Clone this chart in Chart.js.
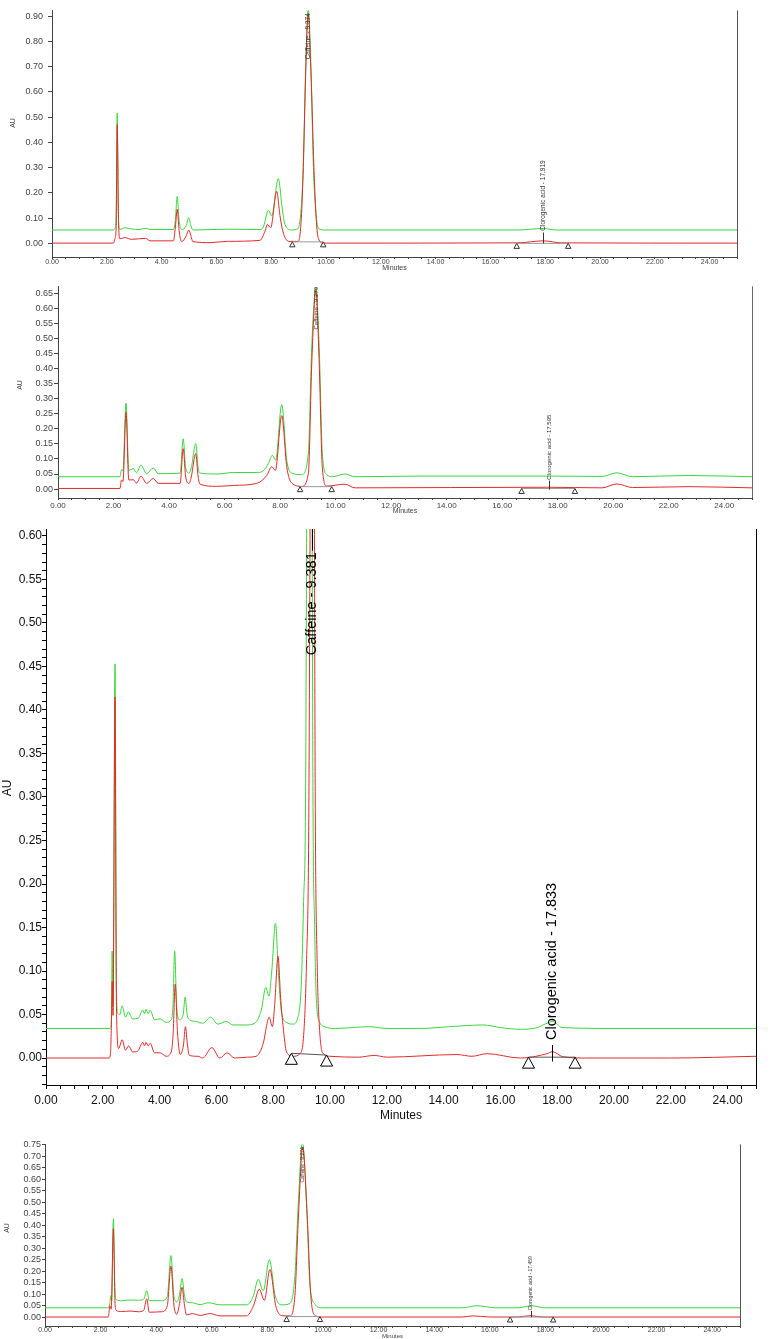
<!DOCTYPE html>
<html>
<head>
<meta charset="utf-8">
<script src="https://cdn.jsdelivr.net/npm/chart.js@4.4.1/dist/chart.umd.min.js"></script>
<style>
html, body { margin: 0; padding: 0; background: #fff; }
body { width: 770px; height: 1339px; position: relative; overflow: hidden; }
canvas { position: absolute; left: 0; }
</style>
</head>
<body>
<canvas id="run1" width="770" height="272" style="top:0px"></canvas>
<canvas id="run2" width="770" height="240" style="top:280px"></canvas>
<canvas id="run3" width="770" height="605" style="top:520px"></canvas>
<canvas id="run4" width="770" height="201" style="top:1138px"></canvas>
<script>
// chromatogram 1 (top)
const p1GreenTime = [0, 2.24, 2.30, 2.34, 2.38, 2.42, 2.47, 2.66, 2.90, 3.20, 3.42, 3.58, 4.43, 4.50, 4.57, 4.64, 4.73, 4.90, 4.99, 5.07, 5.14, 6.40, 7.59, 7.71, 7.90, 8.02, 8.26, 8.40, 8.50, 8.75, 8.99, 9.10, 9.17, 9.26, 9.35, 9.45, 9.54, 9.62, 9.72, 9.96, 17.0, 17.93, 18.4, 25];
const p1GreenAU = [0.053, 0.053, 0.060, 0.10, 0.516, 0.12, 0.055, 0.062, 0.057, 0.055, 0.060, 0.055, 0.055, 0.09, 0.186, 0.09, 0.055, 0.07, 0.102, 0.07, 0.053, 0.056, 0.055, 0.064, 0.131, 0.109, 0.257, 0.14, 0.076, 0.053, 0.060, 0.15, 0.30, 0.70, 0.93, 0.70, 0.30, 0.14, 0.060, 0.053, 0.053, 0.059, 0.053, 0.053];
const p1RedTime = [0, 2.24, 2.30, 2.34, 2.38, 2.43, 2.48, 2.66, 2.90, 3.42, 3.58, 4.43, 4.50, 4.57, 4.64, 4.73, 4.90, 4.99, 5.07, 5.14, 5.80, 6.40, 7.59, 7.78, 7.86, 7.98, 8.20, 8.32, 8.42, 8.64, 8.99, 9.10, 9.17, 9.26, 9.35, 9.45, 9.56, 9.64, 9.72, 9.90, 17.0, 17.93, 18.6, 25];
const p1RedAU = [0.001, 0.001, 0.020, 0.06, 0.47, 0.08, 0.018, 0.023, 0.016, 0.020, 0.010, 0.010, 0.06, 0.135, 0.05, 0.007, 0.03, 0.053, 0.03, 0.007, 0.003, 0.008, 0.012, 0.05, 0.075, 0.062, 0.206, 0.11, 0.05, 0.008, 0.008, 0.10, 0.30, 0.68, 0.91, 0.68, 0.30, 0.10, 0.020, 0.001, 0.002, 0.010, 0.002, 0.001];
const p1PeakNames = ['Caffeine - 9.374', 'Clorogenic acid - 17.919'];
const p1PeakTimes = [9.34, 17.93];
const p1LabelAU = [0.729, 0.05];
const p1TickLow = [null, 0.0];
const p1TickHigh = [null, 0.043];
const p1BaseFrom = [8.77, 16.96];
const p1BaseTo = [9.90, 18.84];
const p1BaseFromAU = [0.006, 0.0];
const p1BaseToAU = [0.006, 0.0];

// chromatogram 2
const p2GreenTime = [0, 2.23, 2.29, 2.34, 2.45, 2.55, 2.71, 2.83, 2.99, 3.19, 3.43, 3.61, 4.40, 4.51, 4.60, 4.72, 4.80, 4.96, 5.05, 5.12, 5.72, 6.32, 7.16, 7.40, 7.58, 7.72, 7.84, 8.06, 8.24, 8.42, 8.78, 9.02, 9.14, 9.29, 9.41, 9.52, 9.68, 9.89, 10.34, 10.7, 13.0, 17.6, 19.6, 20.13, 20.7, 22.7, 25];
const p2GreenAU = [0.041, 0.041, 0.065, 0.06, 0.285, 0.062, 0.068, 0.054, 0.079, 0.051, 0.070, 0.051, 0.053, 0.167, 0.07, 0.053, 0.07, 0.151, 0.07, 0.053, 0.050, 0.055, 0.055, 0.061, 0.085, 0.112, 0.096, 0.280, 0.096, 0.053, 0.048, 0.12, 0.47, 0.67, 0.47, 0.12, 0.048, 0.041, 0.050, 0.041, 0.043, 0.043, 0.042, 0.054, 0.041, 0.045, 0.041];
const p2RedTime = [0, 2.23, 2.29, 2.34, 2.45, 2.55, 2.71, 2.83, 2.99, 3.19, 3.43, 3.61, 4.40, 4.51, 4.60, 4.72, 4.80, 4.96, 5.05, 5.12, 5.72, 6.32, 7.16, 7.52, 7.70, 7.83, 8.06, 8.24, 8.42, 8.78, 9.02, 9.14, 9.29, 9.41, 9.52, 9.68, 10.34, 10.7, 17.6, 19.6, 20.13, 20.7, 22.7, 25];
const p2RedAU = [0.002, 0.002, 0.030, 0.025, 0.255, 0.030, 0.031, 0.020, 0.043, 0.019, 0.035, 0.019, 0.019, 0.134, 0.04, 0.019, 0.04, 0.118, 0.04, 0.016, 0.009, 0.012, 0.019, 0.045, 0.074, 0.062, 0.244, 0.074, 0.020, 0.009, 0.053, 0.415, 0.66, 0.415, 0.075, 0.010, 0.016, 0.004, 0.006, 0.004, 0.017, 0.005, 0.008, 0.004];
const p2PeakNames = ['Caffeine - 9.279', 'Clorogenic acid - 17.595'];
const p2PeakTimes = [9.29, 17.69];
const p2LabelAU = [0.53, 0.031];
const p2TickLow = [null, -0.002];
const p2TickHigh = [null, 0.028];
const p2BaseFrom = [8.72, 16.70];
const p2BaseTo = [9.86, 18.62];
const p2BaseFromAU = [0.008, 0.002];
const p2BaseToAU = [0.008, 0.002];

// chromatogram 3 (large)
const p3GreenTime = [0, 2.25, 2.30, 2.33, 2.36, 2.43, 2.48, 2.53, 2.60, 2.68, 2.80, 2.90, 3.05, 3.25, 3.41, 3.47, 3.52, 3.60, 3.67, 3.82, 4.02, 4.23, 4.41, 4.47, 4.53, 4.60, 4.70, 4.83, 4.90, 4.97, 5.05, 5.29, 5.52, 5.80, 6.05, 6.35, 6.58, 7.05, 7.29, 7.45, 7.58, 7.74, 7.85, 7.95, 8.08, 8.18, 8.29, 8.47, 8.70, 8.85, 8.99, 9.07, 9.14, 9.18, 9.27, 9.37, 9.40, 9.46, 9.52, 9.64, 9.81, 10.2, 11.4, 12.0, 13.2, 14.2, 15.4, 16.0, 16.7, 17.3, 17.64, 17.84, 18.17, 20.0, 25];
const p3GreenAU = [0.034, 0.034, 0.040, 0.123, 0.060, 0.453, 0.080, 0.051, 0.050, 0.060, 0.047, 0.053, 0.045, 0.046, 0.055, 0.051, 0.056, 0.051, 0.055, 0.044, 0.045, 0.041, 0.044, 0.060, 0.123, 0.060, 0.044, 0.050, 0.070, 0.050, 0.044, 0.042, 0.040, 0.047, 0.039, 0.042, 0.038, 0.038, 0.039, 0.044, 0.055, 0.081, 0.071, 0.100, 0.155, 0.100, 0.053, 0.041, 0.039, 0.045, 0.085, 0.18, 0.30, 0.62, 1.20, 0.62, 0.30, 0.15, 0.067, 0.041, 0.036, 0.034, 0.036, 0.034, 0.034, 0.036, 0.038, 0.035, 0.033, 0.035, 0.040, 0.042, 0.035, 0.034, 0.034];
const p3RedTime = [0, 2.22, 2.27, 2.31, 2.33, 2.36, 2.43, 2.48, 2.56, 2.68, 2.80, 2.91, 3.05, 3.23, 3.41, 3.47, 3.52, 3.60, 3.67, 3.82, 4.02, 4.23, 4.41, 4.48, 4.55, 4.63, 4.73, 4.84, 4.91, 4.98, 5.05, 5.35, 5.52, 5.84, 6.12, 6.38, 6.64, 7.10, 7.40, 7.55, 7.65, 7.86, 7.97, 8.05, 8.17, 8.26, 8.35, 8.47, 8.70, 8.94, 9.08, 9.17, 9.25, 9.30, 9.38, 9.45, 9.48, 9.55, 9.62, 9.74, 10.0, 11.0, 11.56, 12.0, 14.47, 15.0, 15.53, 16.7, 17.64, 17.83, 18.2, 19.0, 22.0, 25];
const p3RedAU = [0.0, 0.0, 0.005, 0.050, 0.088, 0.049, 0.415, 0.060, 0.011, 0.021, 0.009, 0.014, 0.007, 0.008, 0.018, 0.014, 0.018, 0.014, 0.017, 0.006, 0.006, 0.002, 0.007, 0.030, 0.085, 0.030, 0.004, 0.015, 0.036, 0.015, 0.003, 0.002, 0.000, 0.012, 0.000, 0.006, 0.000, 0.001, 0.002, 0.008, 0.017, 0.047, 0.036, 0.060, 0.117, 0.070, 0.036, 0.007, 0.002, 0.005, 0.030, 0.107, 0.26, 0.62, 1.20, 0.62, 0.30, 0.107, 0.040, 0.006, 0.002, 0.001, 0.003, 0.001, 0.004, 0.002, 0.005, 0.000, 0.005, 0.0073, 0.0015, 0.000, 0.000, 0.002];
const p3PeakNames = ['Caffeine - 9.381', 'Clorogenic acid - 17.833'];
const p3PeakTimes = [9.381, 17.833];
const p3LabelAU = [0.463, 0.0207];
const p3TickLow = [0.583, -0.004];
const p3TickHigh = [1.2, 0.0149];
const p3BaseFrom = [8.64, 16.99];
const p3BaseTo = [9.88, 18.63];
const p3BaseFromAU = [0.0054, 0.001];
const p3BaseToAU = [0.0034, 0.001];

// chromatogram 4 (bottom)
const p4GreenTime = [0, 2.28, 2.33, 2.37, 2.40, 2.46, 2.52, 2.56, 2.75, 3.06, 3.35, 3.55, 3.66, 3.75, 4.20, 4.40, 4.53, 4.64, 4.74, 4.84, 4.93, 5.02, 5.09, 5.30, 5.58, 5.88, 6.30, 7.25, 7.50, 7.67, 7.85, 8.07, 8.28, 8.52, 8.81, 8.99, 9.11, 9.26, 9.41, 9.53, 9.73, 9.95, 15.0, 15.53, 16.2, 17.0, 17.5, 18.0, 25];
const p4GreenAU = [0.041, 0.041, 0.06, 0.094, 0.07, 0.428, 0.10, 0.077, 0.072, 0.075, 0.074, 0.078, 0.115, 0.072, 0.072, 0.09, 0.268, 0.09, 0.067, 0.10, 0.168, 0.09, 0.067, 0.063, 0.055, 0.063, 0.054, 0.054, 0.094, 0.165, 0.115, 0.250, 0.094, 0.054, 0.060, 0.18, 0.49, 0.76, 0.49, 0.14, 0.054, 0.041, 0.041, 0.050, 0.041, 0.041, 0.050, 0.041, 0.041];
const p4RedTime = [0, 2.28, 2.31, 2.33, 2.38, 2.46, 2.52, 2.56, 2.75, 3.06, 3.35, 3.55, 3.66, 3.75, 4.20, 4.40, 4.53, 4.64, 4.74, 4.84, 4.93, 5.02, 5.09, 5.30, 5.58, 5.93, 6.30, 7.25, 7.50, 7.71, 7.89, 8.09, 8.30, 8.52, 8.81, 8.99, 9.11, 9.27, 9.44, 9.56, 9.73, 9.95, 15.0, 15.4, 16.0, 17.0, 17.44, 17.9, 25];
const p4RedAU = [0.001, 0.001, 0.03, 0.05, 0.035, 0.385, 0.06, 0.030, 0.025, 0.027, 0.024, 0.03, 0.080, 0.022, 0.024, 0.05, 0.222, 0.05, 0.013, 0.06, 0.130, 0.05, 0.010, 0.016, 0.008, 0.016, 0.006, 0.006, 0.050, 0.122, 0.073, 0.208, 0.050, 0.007, 0.006, 0.094, 0.42, 0.74, 0.42, 0.095, 0.007, 0.001, 0.001, 0.006, 0.001, 0.001, 0.007, 0.001, 0.001];
const p4PeakNames = ['Caffeine - 9.274', 'Clorogenic acid - 17.459'];
const p4PeakTimes = [9.26, 17.48];
const p4LabelAU = [0.585, 0.03];
const p4TickLow = [null, 0.0];
const p4TickHigh = [null, 0.028];
const p4BaseFrom = [8.69, 16.73];
const p4BaseTo = [9.89, 18.28];
const p4BaseFromAU = [0.003, 0.001];
const p4BaseToAU = [0.003, 0.001];

const GREEN = '#3ad63a';
const RED = '#e22a2a';
const FONT = "'Liberation Sans', Arial, sans-serif";
Chart.defaults.font.family = FONT;

function pts(t, v) {
    return t.map((x, i) => ({ x: x, y: v[i] }));
}

// triangles, baselines, peak names, right frame and the AU title
const peakMarks = {
    id: 'peakMarks',
    afterDatasetsDraw(chart, args, o) {
        const ctx = chart.ctx;
        const a = chart.chartArea;
        const x = chart.scales.x, y = chart.scales.y;
        ctx.save();
        ctx.lineWidth = 1;
        ctx.strokeStyle = o.frame;
        const rx = Math.round(a.right) + 0.5;
        ctx.beginPath(); ctx.moveTo(rx, a.top); ctx.lineTo(rx, a.bottom); ctx.stroke();

        ctx.beginPath(); ctx.rect(a.left, a.top, a.width, a.height); ctx.clip();
        o.baseFrom.forEach((t0, i) => {
            const x0 = x.getPixelForValue(t0), y0 = y.getPixelForValue(o.baseFromAU[i]);
            const x1 = x.getPixelForValue(o.baseTo[i]), y1 = y.getPixelForValue(o.baseToAU[i]);
            ctx.strokeStyle = o.baseColor;
            ctx.beginPath(); ctx.moveTo(x0, y0); ctx.lineTo(x1, y1); ctx.stroke();
            ctx.strokeStyle = o.ink;
            [[x0, y0], [x1, y1]].forEach(p => {
                const h = o.tri;
                ctx.beginPath();
                ctx.moveTo(p[0], p[1]);
                ctx.lineTo(p[0] + h * 0.55, p[1] + h);
                ctx.lineTo(p[0] - h * 0.55, p[1] + h);
                ctx.closePath();
                ctx.fillStyle = '#fff'; ctx.fill(); ctx.stroke();
            });
        });

        ctx.font = o.labelFont;
        ctx.fillStyle = o.ink;
        ctx.strokeStyle = o.ink;
        ctx.textAlign = 'left';
        ctx.textBaseline = 'middle';
        o.names.forEach((name, i) => {
            const px = x.getPixelForValue(o.times[i]);
            if (o.tickLow[i] !== null) {
                const lx = Math.round(px) + 0.5;
                ctx.beginPath();
                ctx.moveTo(lx, y.getPixelForValue(o.tickLow[i]));
                ctx.lineTo(lx, y.getPixelForValue(o.tickHigh[i]));
                ctx.stroke();
            }
            ctx.save();
            ctx.translate(px, y.getPixelForValue(o.labelAU[i]));
            ctx.rotate(-Math.PI / 2);
            ctx.fillText(name, 0, 0);
            ctx.restore();
        });
        ctx.restore();

        ctx.save();
        ctx.font = o.auFont;
        ctx.fillStyle = o.auColor;
        ctx.textAlign = 'center';
        ctx.textBaseline = 'middle';
        ctx.translate(o.auX, o.auY);
        ctx.rotate(-Math.PI / 2);
        ctx.fillText('AU', 0, 0);
        ctx.restore();
    }
};

function minuteLabel(v) {
    const k = Math.round(v * 2);
    return k % 4 === 0 ? (k / 2).toFixed(2) : '';
}

function auLabel(every) {
    return v => {
        const k = Math.round(v * 100);
        return k % every === 0 ? (k / 100).toFixed(2) : '';
    };
}

function buildRun(id, p) {
    return new Chart(document.getElementById(id), {
        type: 'scatter',
        data: {
            datasets: [
                { data: pts(p.redT, p.redV), borderColor: RED, borderWidth: p.lw, showLine: true, pointRadius: 0, cubicInterpolationMode: 'monotone' },
                { data: pts(p.greenT, p.greenV), borderColor: GREEN, borderWidth: p.lw, showLine: true, pointRadius: 0, cubicInterpolationMode: 'monotone' }
            ]
        },
        options: {
            responsive: false,
            animation: false,
            events: [],
            layout: { padding: { top: p.padTop, right: p.padRight, left: 0, bottom: 0 } },
            plugins: {
                legend: { display: false },
                tooltip: { enabled: false },
                peakMarks: p.marks
            },
            scales: {
                x: {
                    type: 'linear', min: 0, max: 25,
                    afterFit: s => { s.height = p.xH; },
                    ticks: { stepSize: 0.5, autoSkip: false, maxRotation: 0, includeBounds: false,
                             font: { size: p.xFont }, color: p.text, padding: p.xPad, callback: minuteLabel },
                    grid: { drawOnChartArea: false, drawTicks: true, tickLength: p.xTick, tickColor: p.axis },
                    border: { color: p.axis, width: 1 },
                    title: { display: true, text: 'Minutes', color: p.text, font: { size: p.titleFont },
                             padding: { top: 0, bottom: p.titlePad } }
                },
                y: {
                    type: 'linear', min: p.yMin, max: p.yMax,
                    afterFit: s => { s.width = p.yW; },
                    ticks: { stepSize: p.yStep, autoSkip: false, includeBounds: false,
                             font: { size: p.yFont }, color: p.text, padding: p.yPad, callback: auLabel(p.yEvery) },
                    grid: { drawOnChartArea: false, drawTicks: true, tickLength: p.yTick, tickColor: p.axis },
                    border: { color: p.axis, width: 1 }
                }
            }
        },
        plugins: [peakMarks]
    });
}

buildRun('run1', {
    greenT: p1GreenTime, greenV: p1GreenAU, redT: p1RedTime, redV: p1RedAU, lw: 1,
    padTop: 5, padRight: 33, xH: 15, yW: 52, yMin: -0.054, yMax: 0.923,
    yStep: 0.1, yEvery: 10, xFont: 7, yFont: 9, titleFont: 7, titlePad: 0,
    xPad: -1, yPad: 5, xTick: 2, yTick: 4, axis: '#444', text: '#444',
    marks: { frame: '#555', ink: '#333', baseColor: '#999', tri: 5, labelFont: '6.5px ' + FONT,
             auFont: '7px ' + FONT, auColor: '#444', auX: 13, auY: 123,
             names: p1PeakNames, times: p1PeakTimes, labelAU: p1LabelAU, tickLow: p1TickLow, tickHigh: p1TickHigh,
             baseFrom: p1BaseFrom, baseTo: p1BaseTo, baseFromAU: p1BaseFromAU, baseToAU: p1BaseToAU }
});

buildRun('run2', {
    greenT: p2GreenTime, greenV: p2GreenAU, redT: p2RedTime, redV: p2RedAU, lw: 1,
    padTop: 5, padRight: 18, xH: 22, yW: 58, yMin: -0.0297, yMax: 0.673,
    yStep: 0.05, yEvery: 5, xFont: 8, yFont: 9, titleFont: 7, titlePad: 5,
    xPad: 1, yPad: 1, xTick: 2, yTick: 4, axis: '#444', text: '#444',
    marks: { frame: '#666', ink: '#333', baseColor: '#999', tri: 5, labelFont: '6px ' + FONT,
             auFont: '7px ' + FONT, auColor: '#444', auX: 20, auY: 105,
             names: p2PeakNames, times: p2PeakTimes, labelAU: p2LabelAU, tickLow: p2TickLow, tickHigh: p2TickHigh,
             baseFrom: p2BaseFrom, baseTo: p2BaseTo, baseFromAU: p2BaseFromAU, baseToAU: p2BaseToAU }
});

buildRun('run3', {
    greenT: p3GreenTime, greenV: p3GreenAU, redT: p3RedTime, redV: p3RedAU, lw: 1,
    padTop: 9, padRight: 14, xH: 40, yW: 46, yMin: -0.031, yMax: 0.608,
    yStep: 0.01, yEvery: 5, xFont: 12, yFont: 12, titleFont: 12, titlePad: 2,
    xPad: 4, yPad: 0, xTick: 4, yTick: 4, axis: '#000', text: '#111',
    marks: { frame: '#000', ink: '#000', baseColor: '#555', tri: 11, labelFont: '14.5px ' + FONT,
             auFont: '12px ' + FONT, auColor: '#111', auX: 8, auY: 268,
             names: p3PeakNames, times: p3PeakTimes, labelAU: p3LabelAU, tickLow: p3TickLow, tickHigh: p3TickHigh,
             baseFrom: p3BaseFrom, baseTo: p3BaseTo, baseFromAU: p3BaseFromAU, baseToAU: p3BaseToAU }
});

buildRun('run4', {
    greenT: p4GreenTime, greenV: p4GreenAU, redT: p4RedTime, redV: p4RedAU, lw: 1,
    padTop: 3, padRight: 30, xH: 13, yW: 45, yMin: -0.038, yMax: 0.751,
    yStep: 0.05, yEvery: 5, xFont: 7, yFont: 9, titleFont: 6, titlePad: -1,
    xPad: -2, yPad: 1, xTick: 2, yTick: 3, axis: '#444', text: '#444',
    marks: { frame: '#555', ink: '#333', baseColor: '#999', tri: 5, labelFont: '5px ' + FONT,
             auFont: '7px ' + FONT, auColor: '#444', auX: 7, auY: 90,
             names: p4PeakNames, times: p4PeakTimes, labelAU: p4LabelAU, tickLow: p4TickLow, tickHigh: p4TickHigh,
             baseFrom: p4BaseFrom, baseTo: p4BaseTo, baseFromAU: p4BaseFromAU, baseToAU: p4BaseToAU }
});
</script>
</body>
</html>
